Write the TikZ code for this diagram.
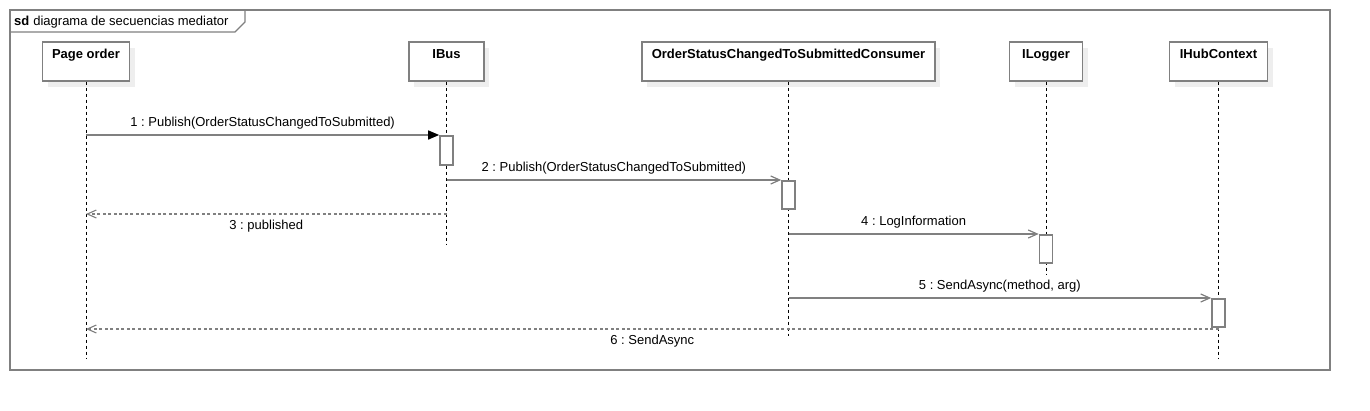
\documentclass[tikz,border=0pt]{standalone}
\usepackage{fontspec}
\setmainfont{Liberation Sans}
\usetikzlibrary{arrows.meta}
\frenchspacing
\definecolor{linegray}{RGB}{128,128,128}
\definecolor{shadowgray}{RGB}{238,238,238}
\tikzset{
  headbox/.style={draw=linegray, line width=1.6pt, fill=white, rectangle, anchor=north,
    inner sep=4pt, text height=13pt, text depth=18pt, font=\fontsize{13}{15}\selectfont\bfseries,
    preaction={draw=none, fill=shadowgray, transform canvas={xshift=5pt,yshift=-6pt}}},
  actbox/.style={draw=linegray, line width=1.6pt, fill=white, rectangle, anchor=north,
    minimum width=13pt, inner sep=0pt},
  lifeline/.style={draw=black, line width=0.8pt, dash pattern=on 3pt off 3pt},
  callmsg/.style={draw=linegray, line width=1.4pt, -{Straight Barb[length=9pt,width=8pt,line width=1.2pt]}},
  firstmsg/.style={draw=linegray, line width=1.4pt, -{Triangle[length=11pt,width=9pt,color=black,fill=black]}},
  retmsg/.style={draw=linegray, line width=1.4pt, dash pattern=on 3pt off 2.5pt,
    -{Straight Barb[length=9pt,width=8pt,line width=1.1pt]}},
  msglabel/.style={inner sep=0pt, text=black},
}
\begin{document}
\begin{tikzpicture}[x=1pt,y=-1pt, font=\fontsize{13}{15}\selectfont]
\useasboundingbox (0,0) rectangle (1370,410);
% frame
\draw[draw=linegray, line width=1.6pt] (10,10) rectangle (1330,370);
\draw[draw=linegray, line width=1.4pt] (10,32) -- (235,32) -- (245,22) -- (245,10);
\node[anchor=base west, inner sep=0pt] (title) at (14,25) {\textbf{sd}\hspace{4pt}diagrama de secuencias mediator};

% lifeline heads
\node[headbox, minimum width=87pt] (p) at (86,41) {Page order};
\node[headbox, minimum width=75pt] (b) at (446.5,41) {IBus};
\node[headbox, minimum width=293pt] (c) at (788.5,41) {OrderStatusChangedToSubmittedConsumer};
\node[headbox, minimum width=73pt] (l) at (1046,41) {ILogger};
\node[headbox, minimum width=98pt] (h) at (1218.5,41) {IHubContext};

% lifeline ends
\coordinate (pe) at (86,358);
\coordinate (be) at (446.5,245);
\coordinate (ce) at (788.5,336);
\coordinate (le) at (1046,275);
\coordinate (he) at (1218.5,359);

\draw[lifeline] (p.south) -- (pe);
\draw[lifeline] (b.south) -- (be);
\draw[lifeline] (c.south) -- (ce);
\draw[lifeline] (l.south) -- (le);
\draw[lifeline] (h.south) -- (he);

% activations
\node[actbox, minimum height=29pt] (ab) at (446.5,135) {};
\node[actbox, minimum height=28pt] (ac) at (788.5,180) {};
\node[actbox, minimum height=28pt] (al) at (1046,234) {};
\node[actbox, minimum height=28pt] (ah) at (1218.5,298) {};

% return points
\coordinate (r3) at (446.5,214);
\coordinate (r6) at (1218.5,329);

% messages
\draw[firstmsg] (p |- ab.north west) -- node[msglabel, above=5pt] (m1) {1 : Publish(OrderStatusChangedToSubmitted)} (ab.north west);
\draw[callmsg] (b |- ac.north west) -- node[msglabel, above=5pt] (m2) {2 : Publish(OrderStatusChangedToSubmitted)} (ac.north west);
\draw[retmsg] (r3) -- node[msglabel, below=5pt] (m3) {3 : published} (p |- r3);
\draw[callmsg] (c |- al.north west) -- node[msglabel, above=5pt] (m4) {4 : LogInformation} (al.north west);
\draw[callmsg] (c |- ah.north west) -- node[msglabel, above=5pt] (m5) {5 : SendAsync(method, arg)} (ah.north west);
\draw[retmsg] (r6) -- node[msglabel, below=5pt] (m6) {6 : SendAsync} (p |- r6);
\end{tikzpicture}
\end{document}
